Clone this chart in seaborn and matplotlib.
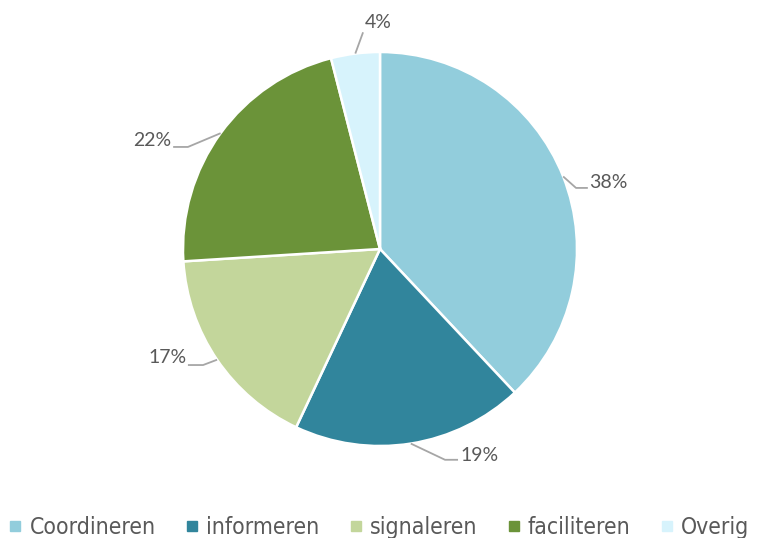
import numpy as np
import seaborn as sns
import matplotlib.pyplot as plt
from matplotlib.lines import Line2D

sns.set_style("white")
plt.rcParams['font.family'] = ['Lato', 'DejaVu Sans']

categories = ["Coordineren", "informeren", "signaleren", "faciliteren", "Overig"]
values = [38, 19, 17, 22, 4]
labels = ["38%", "19%", "17%", "22%", "4%"]
colors = ["#92CDDC", "#31859C", "#C3D69B", "#6B9339", "#D7F3FC"]

# label placement in units of the pie radius: text x, y, alignment, leader line points
label_pos = [
    (1.06, 0.34, "left", [(0.995, 0.31), (1.055, 0.31)]),
    (0.41, -1.046, "left", [(0.33, -1.07), (0.396, -1.07)]),
    (-0.98, -0.553, "right", [(-0.898, -0.589), (-0.975, -0.589)]),
    (-1.06, 0.553, "right", [(-0.975, 0.518), (-1.05, 0.518)]),
    (-0.01, 1.152, "center", [(-0.086, 1.10)]),
]

W, H = 763, 538
fig = plt.figure(figsize=(W / 100, H / 100), dpi=100)
cx, cy, r = 380, 538 - 249, 197
ax = fig.add_axes([(cx - r) / W, (cy - r) / H, 2 * r / W, 2 * r / H])

wedges, _ = ax.pie(values, colors=colors, startangle=90, counterclock=False,
                   radius=1, wedgeprops=dict(edgecolor="white", linewidth=1.8))
ax.set_xlim(-1, 1)
ax.set_ylim(-1, 1)
ax.set_aspect("auto")
ax.axis("off")

for w, lab, (tx, ty, ha, pts) in zip(wedges, labels, label_pos):
    mid = np.deg2rad((w.theta1 + w.theta2) / 2)
    xs = [np.cos(mid)] + [p[0] for p in pts]
    ys = [np.sin(mid)] + [p[1] for p in pts]
    ax.plot(xs, ys, color="#A6A6A6", linewidth=1.3, clip_on=False, solid_capstyle="butt")
    ax.text(tx, ty, lab, ha=ha, va="center", fontsize=14, color="#595959")

handles = [Line2D([], [], marker="s", linestyle="", markersize=7,
                  markerfacecolor=c, markeredgecolor=c) for c in colors]
fig.legend(handles, categories, loc="center left", bbox_to_anchor=(0.003, 0.02),
           ncol=5, frameon=False, handlelength=0.55, handletextpad=0.35,
           columnspacing=1.3, borderaxespad=0, borderpad=0.3,
           prop={"family": ["DejaVu Sans"], "stretch": "condensed", "size": 16.5},
           labelcolor="#595959")

fig.savefig("out.png", dpi=100)
